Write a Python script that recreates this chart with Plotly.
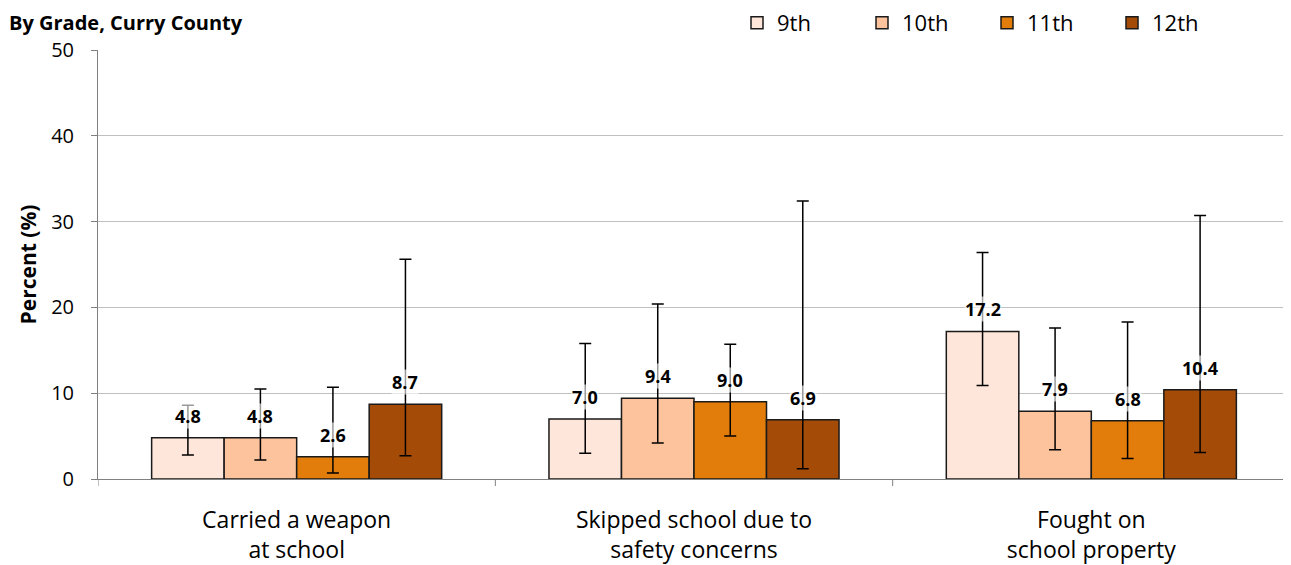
import plotly.graph_objects as go

categories = ["Carried a weapon<br>at school", "Skipped school due to<br>safety concerns", "Fought on<br>school property"]
grades = ["9th", "10th", "11th", "12th"]
values = {
    "9th": [4.8, 7.0, 17.2],
    "10th": [4.8, 9.4, 7.9],
    "11th": [2.6, 9.0, 6.8],
    "12th": [8.7, 6.9, 10.4],
}
ci_upper = {
    "9th": [8.6, 15.8, 26.4],
    "10th": [10.5, 20.4, 17.6],
    "11th": [10.7, 15.7, 18.3],
    "12th": [25.6, 32.4, 30.7],
}
ci_lower = {
    "9th": [2.8, 3.0, 10.9],
    "10th": [2.2, 4.2, 3.4],
    "11th": [0.7, 5.0, 2.4],
    "12th": [2.7, 1.2, 3.1],
}
colors = {"9th": "#FEE6DA", "10th": "#FCC39C", "11th": "#E27D0B", "12th": "#A44C07"}

FONT = "'Open Sans', sans-serif"
bargap = 0.27
OFF = 8  # default page body margin
W, H = 1291 - OFF, 565 - OFF
ML, MR, MT, MB = 98 - OFF, 1, 50 - OFF, 86
PW, PH = W - ML - MR, H - MT - MB

fig = go.Figure()
n = len(grades)
bw = (1 - bargap) / n
for gi, g in enumerate(grades):
    v = values[g]
    fig.add_trace(go.Bar(
        name=g, x=list(range(len(categories))), y=v,
        marker=dict(color=colors[g], line=dict(color="#1a1a1a", width=1.5)),
        error_y=dict(type="data", symmetric=False,
                     array=[u - x for u, x in zip(ci_upper[g], v)],
                     arrayminus=[x - l for l, x in zip(ci_lower[g], v)],
                     color="black", thickness=1.5, width=6),
    ))
    for ci, val in enumerate(v):
        fig.add_annotation(x=ci + (gi - (n - 1) / 2) * bw, y=val, xref="x", yref="y",
                           text=f"<b>{val:.1f}</b>", showarrow=False, yshift=22,
                           font=dict(family=FONT, size=18, color="black"),
                           bgcolor="rgba(255,255,255,0.6)", borderpad=0)

fig.add_annotation(xref="paper", yref="paper", x=(0 - ML) / PW, y=1 + MT / PH,
                   xanchor="left", yanchor="top", text="<b>By Grade, Curry County</b>",
                   showarrow=False, font=dict(family=FONT, size=20, color="black"), borderpad=0)

fig.update_layout(
    width=W, height=H,
    margin=dict(l=ML, r=MR, t=MT, b=MB, autoexpand=False),
    paper_bgcolor="white", plot_bgcolor="white",
    barmode="group", bargap=bargap, bargroupgap=0,
    font=dict(family=FONT, color="black"),
    showlegend=True,
    legend=dict(orientation="h", x=(737 - 98) / PW, y=1 + (MT - (23 - OFF)) / PH, xanchor="left", yanchor="middle",
                font=dict(family=FONT, size=22), entrywidth=80, entrywidthmode="pixels",
                itemwidth=30, traceorder="normal", bgcolor="rgba(0,0,0,0)"),
    yaxis=dict(range=[0, 50], tickvals=[0, 10, 20, 30, 40, 50], showgrid=True, gridcolor="#c0c0c0",
               gridwidth=1.3, zeroline=False, showline=True, linecolor="#808080", linewidth=1,
               ticks="outside", ticklen=6, tickcolor="#808080", ticklabelstandoff=13,
               tickfont=dict(family=FONT, size=20),
               title=dict(text="<b>Percent (%)</b>", font=dict(family=FONT, size=21), standoff=8)),
    xaxis=dict(tickmode="array", tickvals=list(range(len(categories))), ticktext=categories,
               range=[-0.5, 2.5], showline=True, linecolor="#808080", linewidth=1,
               showgrid=False, zeroline=False, ticks="", ticklabelstandoff=20,
               tickfont=dict(family=FONT, size=23)),
)
for xb in [-0.5, 0.5, 1.5, 2.5]:
    fig.add_shape(type="line", xref="x", yref="paper", x0=xb, x1=xb, y0=0, y1=-7 / PH,
                  line=dict(color="#808080", width=1))

fig.write_html("out.html")
